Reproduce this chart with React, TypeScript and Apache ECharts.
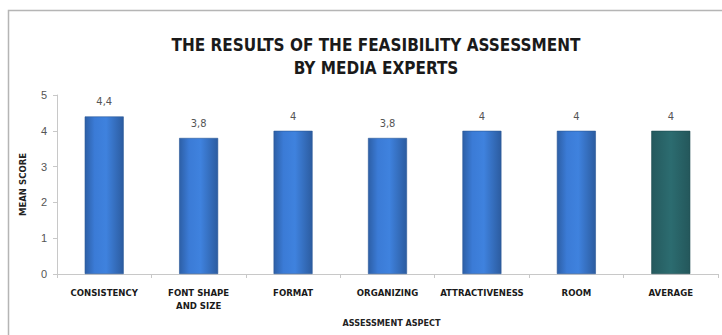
import React, { useEffect, useRef } from "react";
import * as echarts from "echarts";

const categories = ["CONSISTENCY", "FONT SHAPE\nAND SIZE", "FORMAT", "ORGANIZING", "ATTRACTIVENESS", "ROOM", "AVERAGE"];
const meanScores = [4.4, 3.8, 4, 3.8, 4, 4, 4];
const yTicks = [0, 1, 2, 3, 4, 5];

const blueGrad = new echarts.graphic.LinearGradient(0, 0, 1, 0, [
  { offset: 0, color: "#2d5fa6" },
  { offset: 0.25, color: "#3b7bd6" },
  { offset: 0.55, color: "#3f82de" },
  { offset: 1, color: "#2c5ca0" },
]);
const tealGrad = new echarts.graphic.LinearGradient(0, 0, 1, 0, [
  { offset: 0, color: "#255a5e" },
  { offset: 0.5, color: "#2c6c70" },
  { offset: 1, color: "#24575b" },
]);

export default function App() {
  const ref = useRef<HTMLDivElement>(null);
  useEffect(() => {
    document.body.style.margin = "0";
    const chart = echarts.init(ref.current!, null, { renderer: "svg" });
    chart.setOption({
      animation: false,
      backgroundColor: "#ffffff",
      graphic: [
        {
          type: "rect",
          shape: { x: 8.5, y: 10.5, width: 760, height: 360 },
          style: { fill: "none", stroke: "#b5b5b5", lineWidth: 1.5 },
          silent: true,
        },
      ],
      title: {
        text: "THE RESULTS OF THE FEASIBILITY ASSESSMENT\nBY MEDIA EXPERTS",
        left: 371,
        textAlign: "center",
        top: 28,
        textStyle: {
          fontFamily: "Liberation Sans Narrow, DejaVu Sans Condensed, Arial Narrow, sans-serif",
          fontWeight: "bold",
          fontSize: 17,
          lineHeight: 23,
          color: "#1a1a1a",
        },
      },
      grid: { left: 57, right: 4, top: 95, bottom: 61, containLabel: false },
      xAxis: {
        type: "category",
        data: categories,
        name: "ASSESSMENT ASPECT",
        nameLocation: "middle",
        nameGap: 44,
        nameTextStyle: {
          fontFamily: "DejaVu Sans Condensed, sans-serif",
          fontWeight: "bold",
          fontSize: 9,
          color: "#222",
          padding: [0, 0, 0, 8],
        },
        axisLine: { lineStyle: { color: "#c8c8c8", width: 1 } },
        axisTick: { show: true, length: 4, lineStyle: { color: "#c8c8c8" } },
        axisLabel: {
          interval: 0,
          margin: 12,
          fontFamily: "DejaVu Sans Condensed, sans-serif",
          fontWeight: "bold",
          fontSize: 9.5,
          lineHeight: 13,
          color: "#1a1a1a",
        },
      },
      yAxis: {
        type: "value",
        min: 0,
        max: 5,
        interval: 1,
        name: "MEAN SCORE",
        nameLocation: "middle",
        nameGap: 30,
        nameRotate: 90,
        nameTextStyle: {
          fontFamily: "DejaVu Sans Condensed, sans-serif",
          fontWeight: "bold",
          fontSize: 9.5,
          color: "#222",
        },
        axisLine: { show: true, lineStyle: { color: "#c8c8c8", width: 1 } },
        axisTick: { show: true, length: 4, lineStyle: { color: "#c8c8c8" } },
        splitLine: { show: false },
        axisLabel: {
          margin: 10,
          fontFamily: "Liberation Sans, sans-serif",
          fontSize: 11,
          color: "#555",
          formatter: (v: number) => (yTicks.includes(v) ? String(v) : ""),
        },
      },
      series: [
        {
          type: "bar",
          barWidth: 39,
          data: meanScores.map((v, i) => ({
            value: v,
            itemStyle: {
              color: i === meanScores.length - 1 ? tealGrad : blueGrad,
              borderColor: i === meanScores.length - 1 ? "#1f4c50" : "#2a5797",
              borderWidth: 0.6,
            },
          })),
          label: {
            show: true,
            position: "top",
            distance: 9,
            fontFamily: "Liberation Sans Narrow, DejaVu Sans Condensed, sans-serif",
            fontSize: 11,
            color: "#555",
            formatter: (p: any) => String(p.value).replace(".", ","),
          },
        },
      ],
    });
    return () => chart.dispose();
  }, []);
  return <div ref={ref} style={{ width: 722, height: 335 }} />;
}
